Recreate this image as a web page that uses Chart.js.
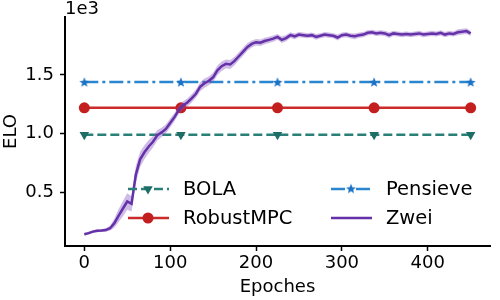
<!DOCTYPE html>
<html>
<head>
<meta charset="utf-8">
<script src="https://cdn.jsdelivr.net/npm/chart.js@4"></script>
<style>
  body { margin: 0; background: #fff; }
  #wrap { width: 500px; height: 300px; position: relative; }
</style>
</head>
<body>
<div id="wrap"><canvas id="eloChart"></canvas></div>
<script>
// baselines: flat ELO, markers every 112.5 epochs
const markerEpochs = [0, 112.5, 225, 337.5, 450];
const bolaElo = 990;
const robustMpcElo = 1220;
const pensieveElo = 1440;

// Zwei ELO, every 5 epochs (0..450)
const zweiEpochs = [];
for (let e = 0; e <= 450; e += 5) zweiEpochs.push(e);
const zweiElo = [
    140, 150, 163, 170, 172, 176, 192, 235, 300, 360,
    420, 400, 650, 780, 840, 890, 930, 985, 1010, 1040,
    1090, 1140, 1200, 1240, 1265, 1300, 1340, 1400, 1430, 1450,
    1480, 1540, 1575, 1595, 1590, 1620, 1660, 1700, 1740, 1765,
    1780, 1775, 1790, 1800, 1810, 1825, 1800, 1815, 1840, 1830,
    1845, 1840, 1835, 1840, 1825, 1835, 1845, 1840, 1835, 1820,
    1840, 1845, 1835, 1830, 1840, 1845, 1860, 1865, 1855, 1860,
    1855, 1840, 1855, 1850, 1845, 1850, 1845, 1850, 1855, 1845,
    1850, 1855, 1850, 1860, 1845, 1855, 1850, 1865, 1870, 1875,
    1855
];
// half-width of the shaded band
const zweiSpread = [
    12, 12, 12, 12, 12, 15, 20, 40, 55, 65,
    70, 65, 75, 65, 60, 55, 50, 45, 40, 38,
    38, 36, 35, 35, 35, 35, 35, 38, 40, 38,
    38, 42, 40, 38, 38, 36, 35, 35, 33, 30,
    28, 28, 28, 26, 26, 25, 28, 26, 25, 25,
    22, 22, 22, 22, 25, 22, 22, 22, 22, 25,
    22, 22, 22, 25, 22, 22, 22, 22, 22, 22,
    22, 25, 22, 22, 22, 22, 22, 22, 22, 22,
    22, 22, 22, 22, 22, 22, 22, 25, 25, 25,
    22
];

const xTicks = [0, 100, 200, 300, 400];
const yTicks = [500, 1000, 1500];

const colors = {
    bola: '#2a7f76',
    robust: '#cb2b2b',
    pensieve: '#2a86cf',
    zwei: '#6531a8',
    band: 'rgba(130, 80, 190, 0.38)'
};

function starImage(color) {
    const c = document.createElement('canvas');
    c.width = 12; c.height = 12;
    const g = c.getContext('2d');
    g.fillStyle = color;
    g.beginPath();
    for (let i = 0; i < 10; i++) {
        const r = i % 2 === 0 ? 5.2 : 2.3;
        const a = -Math.PI / 2 + i * Math.PI / 5;
        const px = 6 + r * Math.cos(a), py = 6.5 + r * Math.sin(a);
        if (i === 0) g.moveTo(px, py); else g.lineTo(px, py);
    }
    g.closePath();
    g.fill();
    return c;
}
const star = starImage('#1c72c4');

const flat = (v) => markerEpochs.map(e => ({ x: e, y: v }));
const zweiPts = zweiEpochs.map((e, i) => ({ x: e, y: zweiElo[i] }));
const upperPts = zweiEpochs.map((e, i) => ({ x: e, y: zweiElo[i] + zweiSpread[i] }));
const lowerPts = zweiEpochs.map((e, i) => ({ x: e, y: zweiElo[i] - zweiSpread[i] }));

const legendItems = [
    { label: 'BOLA', color: colors.bola, dash: [9, 4], marker: 'tri', col: 0, row: 0 },
    { label: 'RobustMPC', color: colors.robust, dash: [], marker: 'circle', col: 0, row: 1 },
    { label: 'Pensieve', color: colors.pensieve, dash: [14, 4, 3, 4], marker: 'star', col: 1, row: 0 },
    { label: 'Zwei', color: colors.zwei, dash: [], marker: null, col: 1, row: 1 }
];

const extras = {
    id: 'extras',
    afterDraw(chart) {
        const ctx = chart.ctx;
        ctx.save();
        ctx.fillStyle = '#000';
        ctx.font = '18px "DejaVu Sans"';
        ctx.textBaseline = 'middle';
        ctx.textAlign = 'left';
        ctx.fillText('1e3', 65, 9);

        // legend
        const colX = [128, 331], rowY = [189, 218];
        legendItems.forEach(it => {
            const x0 = colX[it.col], y = rowY[it.row];
            ctx.strokeStyle = it.color;
            ctx.lineWidth = 2.5;
            ctx.setLineDash(it.dash);
            ctx.beginPath();
            ctx.moveTo(x0, y); ctx.lineTo(x0 + 41, y);
            ctx.stroke();
            ctx.setLineDash([]);
            const mx = x0 + 20;
            if (it.marker === 'tri') {
                ctx.fillStyle = '#1d6e67';
                Chart.helpers.drawPoint(ctx, { pointStyle: 'triangle', rotation: 180, radius: 5.5, borderWidth: 0 }, mx, y);
            } else if (it.marker === 'circle') {
                ctx.fillStyle = '#c41f1f';
                Chart.helpers.drawPoint(ctx, { pointStyle: 'circle', rotation: 0, radius: 5.5, borderWidth: 0 }, mx, y);
            } else if (it.marker === 'star') {
                ctx.drawImage(star, mx - 6, y - 6.5);
            }
            ctx.fillStyle = '#000';
            ctx.font = '19.5px "DejaVu Sans"';
            ctx.fillText(it.label, x0 + 55, y + 1);
        });
        ctx.restore();
    }
};

const ctx = document.getElementById('eloChart').getContext('2d');
Chart.defaults.font.family = '"DejaVu Sans"';
Chart.defaults.font.size = 18;
Chart.defaults.color = '#000';

new Chart(ctx, {
    type: 'line',
    data: {
        datasets: [
            {
                label: 'Zwei', data: zweiPts, borderColor: colors.zwei, borderWidth: 2.5,
                pointRadius: 0, fill: false, order: 0
            },
            {
                label: 'upper', data: upperPts, borderColor: 'rgba(0,0,0,0)', borderWidth: 0,
                pointRadius: 0, backgroundColor: colors.band, fill: '+1', order: 1
            },
            {
                label: 'lower', data: lowerPts, borderColor: 'rgba(0,0,0,0)', borderWidth: 0,
                pointRadius: 0, fill: false, order: 1
            },
            {
                label: 'Pensieve', data: flat(pensieveElo), borderColor: colors.pensieve, borderWidth: 2.5,
                borderDash: [14, 4, 3, 4], pointStyle: star, fill: false, order: 2
            },
            {
                label: 'RobustMPC', data: flat(robustMpcElo), borderColor: colors.robust, borderWidth: 2.5,
                pointStyle: 'circle', pointRadius: 5.5, pointBackgroundColor: '#c41f1f',
                pointBorderWidth: 0, fill: false, order: 3
            },
            {
                label: 'BOLA', data: flat(bolaElo), borderColor: colors.bola, borderWidth: 2.5,
                borderDash: [9, 4], pointStyle: 'triangle', rotation: 180, pointRadius: 5.5,
                pointBackgroundColor: '#1d6e67', pointBorderWidth: 0, fill: false, order: 4
            }
        ]
    },
    options: {
        responsive: true,
        maintainAspectRatio: false,
        animation: false,
        layout: { padding: { left: 0, top: 17, right: 10, bottom: 0 } },
        plugins: {
            legend: { display: false },
            tooltip: { enabled: false }
        },
        scales: {
            x: {
                type: 'linear',
                min: -22.5,
                max: 472.5,
                afterBuildTicks: (s) => { s.ticks = xTicks.map(v => ({ value: v })); },
                afterFit: (s) => { s.height = 54; },
                grid: { drawOnChartArea: false, drawTicks: true, tickLength: 5, tickWidth: 1.5, tickColor: '#000' },
                border: { color: '#000', width: 2 },
                ticks: { padding: 2, maxRotation: 0 },
                title: { display: true, text: 'Epoches', padding: { top: 0, bottom: 2 } }
            },
            y: {
                min: 40,
                max: 1995,
                afterBuildTicks: (s) => { s.ticks = yTicks.map(v => ({ value: v })); },
                afterFit: (s) => { s.width = 65; },
                grid: { drawOnChartArea: false, drawTicks: true, tickLength: 5, tickWidth: 1.5, tickColor: '#000' },
                border: { color: '#000', width: 2 },
                ticks: { padding: 6, callback: (v) => (v / 1000).toFixed(1) },
                title: { display: true, text: 'ELO', padding: { top: 1, bottom: 0 } }
            }
        }
    },
    plugins: [extras]
});
</script>
</body>
</html>
